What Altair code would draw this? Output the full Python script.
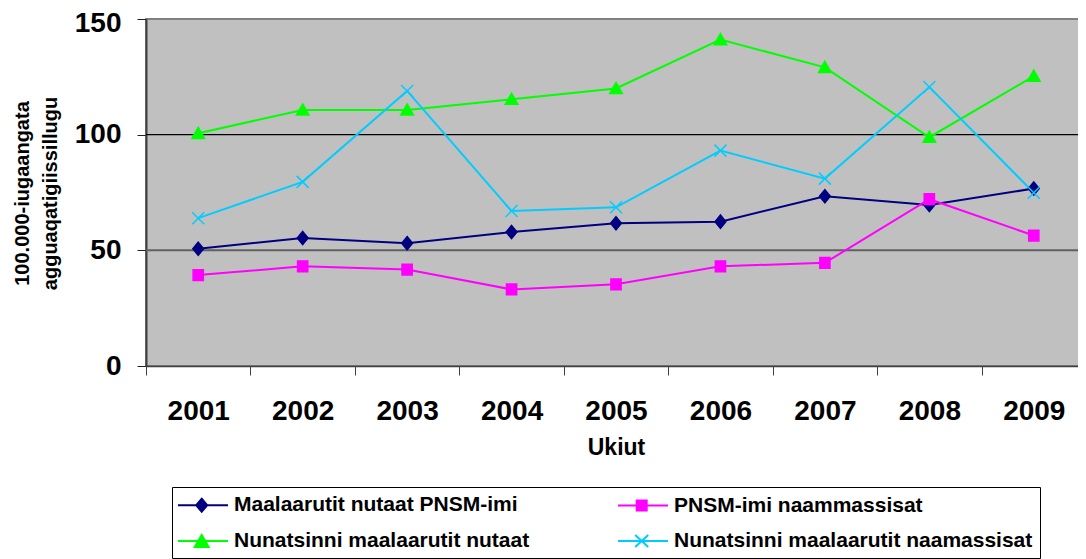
import altair as alt
import pandas as pd

# ---- data ----
years = ["2001", "2002", "2003", "2004", "2005", "2006", "2007", "2008", "2009"]
series_names = [
    "Maalaarutit nutaat PNSM-imi",
    "PNSM-imi naammassisat",
    "Nunatsinni maalaarutit nutaat",
    "Nunatsinni maalaarutit naamassisat",
]
s_nutaat_pnsm = [50.7, 55.3, 53.1, 57.9, 61.7, 62.4, 73.4, 69.6, 76.7]
s_naammassisat_pnsm = [39.3, 43.1, 41.7, 33.1, 35.3, 43.1, 44.6, 72.1, 56.4]
s_nutaat_nun = [100.6, 110.7, 110.7, 115.3, 120.0, 141.1, 129.1, 98.9, 125.3]
s_naamassisat_nun = [63.9, 79.6, 118.9, 67.0, 68.6, 93.1, 81.0, 120.6, 74.9]
colors = ["#000080", "#FF00FF", "#00FF00", "#00CCFF"]
y_ticks = [0, 50, 100, 150]
grid_values = [50, 100]
y_title = ["100.000-iugaangata", "agguaqatigiissillugu"]
x_title = "Ukiut"
# legend entries are laid out column by column
legend_order = [0, 2, 1, 3]

# marker shapes (point marks) and legend symbols (line + marker)
marker_paths = [
    "M0,-1.1L0.9,0L0,1.1L-0.9,0Z",
    "M-0.85,-0.9L0.85,-0.9L0.85,0.9L-0.85,0.9Z",
    "M0,-1L1.05,0.85L-1.05,0.85Z",
    "M-1,-1L1,1M-1,1L1,-1",
]
legend_paths = [
    "M-1.2,0L3.8,0M1.17,-0.65L1.72,0L1.17,0.65L0.62,0Z",
    "M-1.2,0L3.8,0M0.67,-0.5L1.67,-0.5L1.67,0.5L0.67,0.5Z",
    "M-1.2,0L3.8,0M1.17,-0.6L1.87,0.6L0.47,0.6Z",
    "M-1.2,0L3.8,0M0.52,-0.6L1.82,0.6M0.52,0.6L1.82,-0.6",
]

rows = []
for name, vals in zip(series_names, [s_nutaat_pnsm, s_naammassisat_pnsm, s_nutaat_nun, s_naamassisat_nun]):
    for yr, v in zip(years, vals):
        rows.append({"year": yr, "series": name, "value": v})
df = pd.DataFrame(rows)
grid_df = pd.DataFrame({"v": grid_values})

FONT = "Liberation Sans"

x_scale = alt.Scale(type="band", domain=years, paddingInner=0, paddingOuter=0)
y_scale = alt.Scale(domain=[0, 150], nice=False, zero=True)

x_axis = alt.Axis(
    title=x_title, labelAngle=0, labelFont=FONT, labelFontSize=28, labelFontWeight="bold",
    labelColor="black", labelPadding=22, tickSize=9, tickBand="extent", tickColor="#404040",
    domainColor="#404040", domainWidth=1.5, titleFont=FONT, titleFontSize=23,
    titleFontWeight="bold", titleColor="black", titleY=70, titleBaseline="top", grid=False,
)
y_axis = alt.Axis(
    title=y_title, values=y_ticks, labelFont=FONT, labelFontSize=28, labelFontWeight="bold",
    labelColor="black", labelPadding=16, tickSize=9, tickColor="#202020",
    labelOffset={"condition": {"test": "datum.value == 150", "value": 4}, "value": 0},
    domainColor="#404040", domainWidth=2, titleFont=FONT, titleFontSize=20,
    titleFontWeight="bold", titleColor="black", titleAngle=270, titleX=-134, titleY=174,
    titleAlign="center", titleBaseline="top", titleLineHeight=28, grid=False,
)

X = alt.X("year:N", scale=x_scale, axis=x_axis)
Y = alt.Y("value:Q", scale=y_scale, axis=y_axis)

grid = alt.Chart(grid_df).mark_rule().encode(
    y=alt.Y("v:Q", scale=y_scale, axis=y_axis),
    stroke=alt.condition("datum.v == 50", alt.value("#606060"), alt.value("#000000")),
    strokeWidth=alt.condition("datum.v == 50", alt.value(2), alt.value(1.2)),
)

lines = alt.Chart(df).mark_line(strokeWidth=2).encode(
    x=X, y=Y,
    color=alt.Color("series:N", scale=alt.Scale(domain=series_names, range=colors), legend=None),
    order=alt.Order("year:N"),
)

points = alt.Chart(df).mark_point(filled=True, size=144, opacity=1, strokeWidth=1.5).encode(
    x=X, y=Y,
    fill=alt.Fill("series:N", scale=alt.Scale(domain=series_names, range=colors), legend=None),
    stroke=alt.Stroke("series:N", scale=alt.Scale(domain=series_names, range=colors), legend=None),
    shape=alt.Shape("series:N", scale=alt.Scale(domain=series_names, range=marker_paths), legend=None),
)

leg_domain = [series_names[i] for i in legend_order]
leg_colors = [colors[i] for i in legend_order]
leg_paths = [legend_paths[i] for i in legend_order]

leg = dict(
    orient="none", legendX=26, legendY=468, columns=2, title=None, padding=7,
    strokeColor="black", fillColor="white", cornerRadius=0,
    labelFont=FONT, labelFontSize=21, labelFontWeight="bold", labelColor="black",
    labelOffset=33, labelLimit=700, symbolSize=400, symbolStrokeWidth=2,
    symbolOpacity=1, rowPadding=14, columnPadding=84,
)

legend_layer = alt.Chart(df).transform_filter("false").mark_point(
    filled=True, size=400, opacity=1, strokeWidth=2
).encode(
    x=X, y=Y,
    fill=alt.Fill("series:N", scale=alt.Scale(domain=leg_domain, range=leg_colors), legend=alt.Legend(**leg)),
    stroke=alt.Stroke("series:N", scale=alt.Scale(domain=leg_domain, range=leg_colors), legend=alt.Legend(**leg)),
    shape=alt.Shape("series:N", scale=alt.Scale(domain=leg_domain, range=leg_paths), legend=alt.Legend(**leg)),
)

chart = (
    alt.layer(grid, lines, points, legend_layer)
    .resolve_scale(fill="independent", stroke="independent", shape="independent")
    .properties(
        width=940, height=347, autosize="none",
        padding={"left": 138, "top": 11, "right": -8, "bottom": 194},
        background="white",
    )
    .configure_view(fill="#C0C0C0", stroke="#808080", strokeWidth=2)
)

chart.save("out.html", embed_options={"renderer": "svg", "actions": False})
